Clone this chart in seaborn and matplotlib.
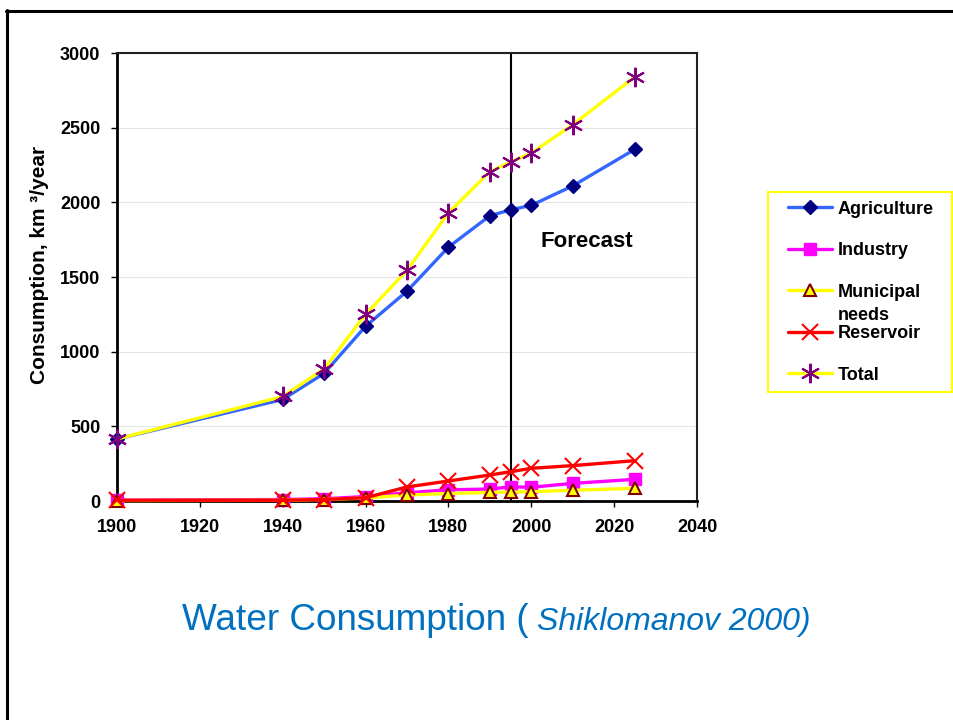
import matplotlib
matplotlib.use("Agg")
import matplotlib.pyplot as plt
from matplotlib.lines import Line2D
from matplotlib.patches import Rectangle
import seaborn as sns

# Global water consumption by sector, km^3/year
years = [1900, 1940, 1950, 1960, 1970, 1980, 1990, 1995, 2000, 2010, 2025]
agriculture = [415, 680, 855, 1170, 1405, 1700, 1910, 1950, 1980, 2110, 2355]
industry = [5, 10, 15, 30, 55, 75, 80, 95, 92, 118, 145]
municipal = [3, 5, 10, 20, 40, 50, 58, 60, 62, 72, 85]
reservoir = [5, 5, 10, 22, 94, 134, 174, 196, 219, 237, 270]
total = [415, 700, 885, 1250, 1545, 1930, 2205, 2270, 2330, 2520, 2840]

series_names = ["Agriculture", "Industry", "Municipal", "Reservoir", "Total"]
x_ticks = [1900, 1920, 1940, 1960, 1980, 2000, 2020, 2040]
y_ticks = [0, 500, 1000, 1500, 2000, 2500, 3000]
forecast_year = 1995

sns.set_style("white")
plt.rcParams["font.family"] = ["Liberation Sans", "DejaVu Sans"]
plt.rcParams["text.color"] = "black"
plt.rcParams["xtick.color"] = "black"
plt.rcParams["ytick.color"] = "black"
plt.rcParams["axes.labelcolor"] = "black"

W, H = 954, 720
fig = plt.figure(figsize=(W / 100, H / 100), dpi=100)
ax = fig.add_axes([117 / W, 1 - 501 / H, 580 / W, 448 / H])

styles = {
    "Agriculture": dict(color="#3366FF", marker="D", ms=7, mfc="#000080", mec="#000080", mew=1),
    "Industry": dict(color="#FF00FF", marker="s", ms=8, mfc="#FF00FF", mec="#FF00FF", mew=1),
    "Municipal": dict(color="#FFFF00", marker="^", ms=9, mfc="#FFFF00", mec="#800000", mew=1.5),
    "Reservoir": dict(color="#FF0000", marker="x", ms=11, mfc="#FF0000", mec="#FF0000", mew=1.5),
    "Total": dict(color="#FFFF00", marker=(6, 2, 0), ms=14, mfc="#800080", mec="#800080", mew=1.5),
}
values = {"Agriculture": agriculture, "Industry": industry, "Municipal": municipal,
          "Reservoir": reservoir, "Total": total}

for i, name in enumerate(series_names):
    st = styles[name]
    sns.lineplot(x=years, y=values[name], ax=ax, label=name, sort=False,
                 color=st["color"], lw=2.4, marker=st["marker"], markersize=st["ms"],
                 markerfacecolor=st["mfc"], markeredgecolor=st["mec"],
                 markeredgewidth=st["mew"], zorder=3 + i, clip_on=False)

ax.axvline(forecast_year, color="black", lw=1.5, zorder=2)
ax.text(2002.3, 1735, "Forecast", fontsize=16, fontweight="bold", va="center", ha="left")

ax.set_xlim(1900, 2040)
ax.set_ylim(0, 3000)
ax.set_xticks(x_ticks)
ax.set_yticks(y_ticks)
ax.set_xticklabels([str(t) for t in x_ticks], fontsize=13, fontweight="bold")
ax.set_yticklabels([str(t) for t in y_ticks], fontsize=13, fontweight="bold")
ax.tick_params(axis="both", direction="out", length=4, width=1, color="black",
               left=True, bottom=True)
ax.tick_params(axis="y", pad=8)
ax.tick_params(axis="x", pad=9)
ax.yaxis.grid(True, color="#e4e4e4", lw=0.8)
ax.set_axisbelow(True)
for side in ["top", "right"]:
    ax.spines[side].set_color("#222222")
    ax.spines[side].set_linewidth(1.5)
for side in ["left", "bottom"]:
    ax.spines[side].set_color("black")
    ax.spines[side].set_linewidth(2)
ax.set_xlabel("")
ax.set_ylabel("Consumption, km \u00b3/year", fontsize=15, fontweight="bold")
ax.yaxis.set_label_coords(-0.117, 0.528)

# legend
handles, labels = ax.get_legend_handles_labels()
ax.get_legend().remove()
leg = fig.legend(handles, labels, loc="upper left",
                 bbox_to_anchor=(788 / W, 1 - 200.5 / H), frameon=False,
                 borderpad=0, borderaxespad=0, handlelength=2.45, handletextpad=0.3,
                 labelspacing=1.36, prop=dict(size=13, weight="bold"))
fig.add_artist(Rectangle((768 / W, 1 - 392 / H), 184 / W, 200 / H, transform=fig.transFigure,
                         fill=False, edgecolor="#FFFF00", lw=1.5))

# slide frame
fig.add_artist(Line2D([6 / W, 1], [1 - 10.5 / H, 1 - 10.5 / H], transform=fig.transFigure,
                      color="black", lw=2.2))
fig.add_artist(Line2D([7 / W, 7 / W], [0, 1 - 9.5 / H], transform=fig.transFigure,
                      color="black", lw=2.2))

# title
fig.text(529 / W, 1 - 630 / H, "Water Consumption (", fontsize=26.6, color="#0070C0",
         ha="right", va="baseline")
fig.text(537 / W, 1 - 630 / H, "Shiklomanov 2000)", fontsize=23, color="#0070C0",
         style="italic", ha="left", va="baseline")

# second line of the municipal legend label
fig.canvas.draw()
bb = leg.get_texts()[2].get_window_extent()
cy = (bb.y0 + bb.y1) / 2 - 23
fig.text(bb.x0 / W, cy / H, "needs", fontsize=13, fontweight="bold", ha="left", va="center")

fig.savefig("out.png", dpi=100)
